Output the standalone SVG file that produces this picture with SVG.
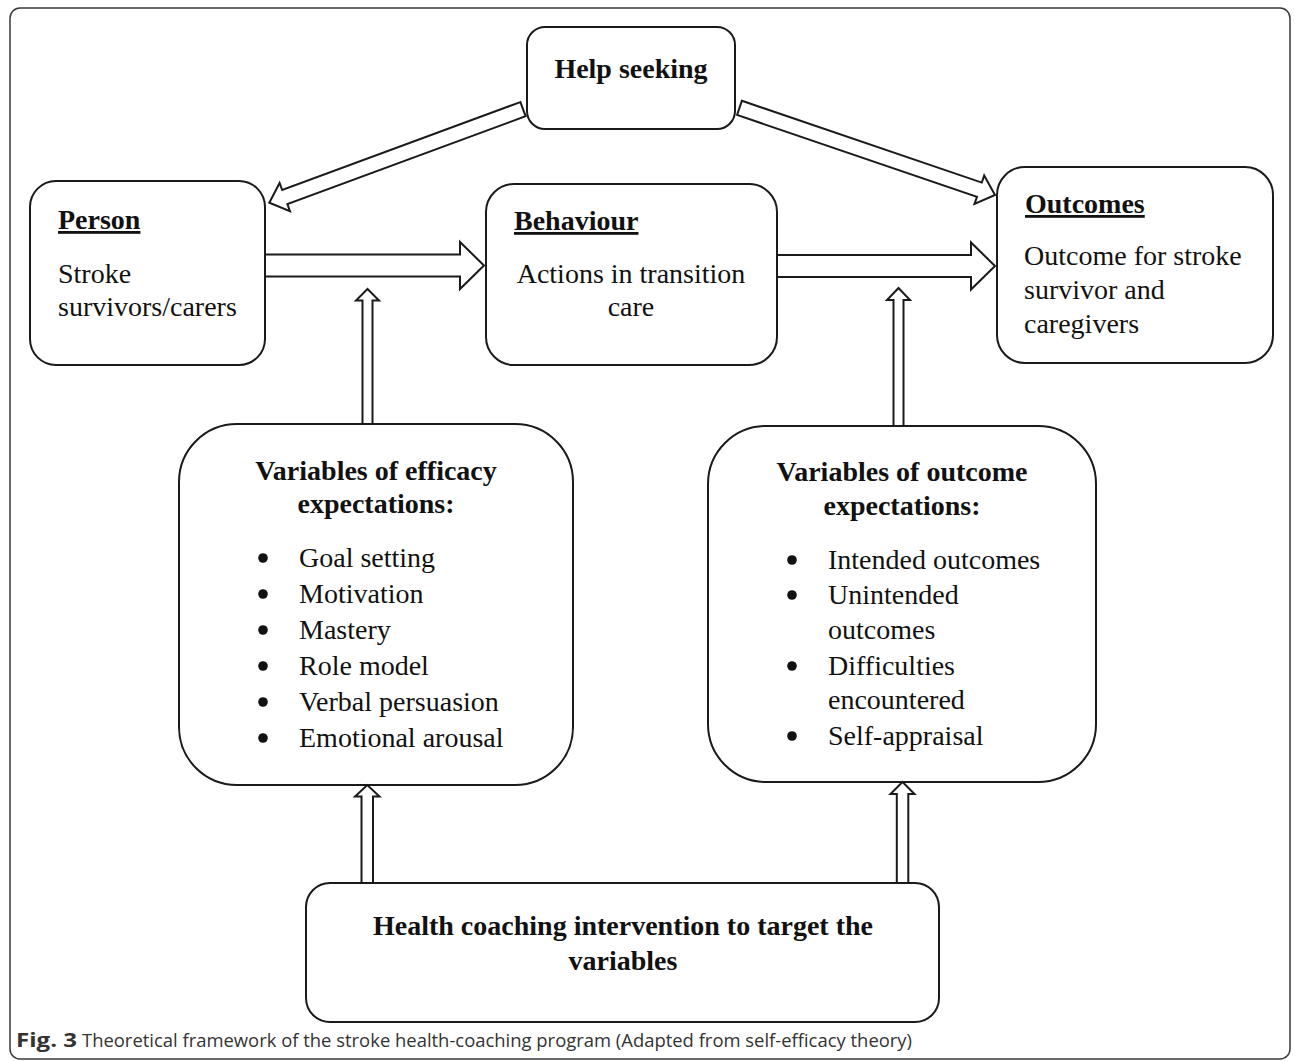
<svg xmlns="http://www.w3.org/2000/svg" width="1295" height="1061" viewBox="0 0 1295 1061">
<style>
.frame{fill:#fff;stroke:#3a3a3a;stroke-width:1.5}
.box{fill:#fff;stroke:#1a1a1a;stroke-width:2}
.arrow{fill:#fff;stroke:#1a1a1a;stroke-width:2;stroke-linejoin:miter}
.t{font-family:"Liberation Serif","Times New Roman",serif;font-size:28px;fill:#111}
.b{font-weight:bold}
.u{text-decoration:underline}
.c{text-anchor:middle}
.dot{fill:#111}
.cap{font-family:"Open Sans","Liberation Sans",sans-serif;font-size:19px;fill:#333}
</style>
<rect class="frame" x="10" y="8" width="1280" height="1051" rx="10"/>

<g id="help-seeking">
<rect class="box" x="527" y="27" width="208" height="102" rx="18"/>
<text class="t b c" x="631" y="78">Help seeking</text>
</g>

<g id="person">
<rect class="box" x="30" y="181" width="235" height="184" rx="26"/>
<text class="t b u" x="58" y="229">Person</text>
<text class="t" x="58" y="283">Stroke</text>
<text class="t" x="58" y="316">survivors/carers</text>
</g>

<g id="behaviour">
<rect class="box" x="486" y="184" width="291" height="181" rx="28"/>
<text class="t b u" x="514" y="230">Behaviour</text>
<text class="t c" x="631" y="283">Actions in transition</text>
<text class="t c" x="631" y="316">care</text>
</g>

<g id="outcomes">
<rect class="box" x="997" y="167" width="276" height="196" rx="28"/>
<text class="t b u" x="1025" y="213">Outcomes</text>
<text class="t" x="1024" y="265">Outcome for stroke</text>
<text class="t" x="1024" y="299">survivor and</text>
<text class="t" x="1024" y="333">caregivers</text>
</g>

<g id="efficacy-expectations">
<rect class="box" x="179" y="424" width="394" height="361" rx="58"/>
<text class="t b c" x="376" y="480">Variables of efficacy</text>
<text class="t b c" x="376" y="513">expectations:</text>
<circle class="dot" cx="263" cy="558" r="4.8"/>
<circle class="dot" cx="263" cy="594" r="4.8"/>
<circle class="dot" cx="263" cy="630" r="4.8"/>
<circle class="dot" cx="263" cy="666" r="4.8"/>
<circle class="dot" cx="263" cy="702" r="4.8"/>
<circle class="dot" cx="263" cy="738" r="4.8"/>
<text class="t" x="299" y="567">Goal setting</text>
<text class="t" x="299" y="603">Motivation</text>
<text class="t" x="299" y="639">Mastery</text>
<text class="t" x="299" y="675">Role model</text>
<text class="t" x="299" y="711">Verbal persuasion</text>
<text class="t" x="299" y="747">Emotional arousal</text>
</g>

<g id="outcome-expectations">
<rect class="box" x="708" y="426" width="388" height="356" rx="58"/>
<text class="t b c" x="902" y="481">Variables of outcome</text>
<text class="t b c" x="902" y="515">expectations:</text>
<circle class="dot" cx="792" cy="560" r="4.8"/>
<circle class="dot" cx="792" cy="595" r="4.8"/>
<circle class="dot" cx="792" cy="666" r="4.8"/>
<circle class="dot" cx="792" cy="736" r="4.8"/>
<text class="t" x="828" y="569">Intended outcomes</text>
<text class="t" x="828" y="604">Unintended</text>
<text class="t" x="828" y="639">outcomes</text>
<text class="t" x="828" y="675">Difficulties</text>
<text class="t" x="828" y="709">encountered</text>
<text class="t" x="828" y="745">Self-appraisal</text>
</g>

<g id="health-coaching">
<rect class="box" x="306" y="883" width="633" height="139" rx="24"/>
<text class="t b c" x="623" y="935">Health coaching intervention to target the</text>
<text class="t b c" x="623" y="970">variables</text>
</g>

<g id="connectors">
<polygon class="arrow" points="520.4,102.1 282.2,190.05 279.6,183.0 269.3,202.8 290.0,211.2 287.4,204.1 525.6,116.2"/>
<polygon class="arrow" points="741.9,100.8 981.8,182.6 984.2,175.5 995,195 974.5,203.9 977.0,196.8 737.1,115.0"/>
<polygon class="arrow" points="265,254.5 460,254.5 460,242 484,265.5 460,289 460,276.5 265,276.5"/>
<polygon class="arrow" points="777,255 971,255 971,242.5 995,266 971,289.5 971,277 777,277"/>
<polygon class="arrow" points="362.5,424 362.5,300.5 356,300.5 367.5,289 379,300.5 372.5,300.5 372.5,424"/>
<polygon class="arrow" points="893.5,426 893.5,300 887,300 898.5,288 910,300 903.5,300 903.5,426"/>
<polygon class="arrow" points="361.5,883 361.5,796.5 355,796.5 367.3,785 379.5,796.5 373,796.5 373,883"/>
<polygon class="arrow" points="896.8,883 896.8,794 890.5,794 902.5,782 914.5,794 908.3,794 908.3,883"/>
</g>

<g id="caption">
<text class="cap" x="16" y="1047" font-weight="bold" textLength="61" lengthAdjust="spacingAndGlyphs">Fig. 3</text>
<text class="cap" x="82" y="1047" textLength="830" lengthAdjust="spacingAndGlyphs">Theoretical framework of the stroke health-coaching program (Adapted from self-efficacy theory)</text>
</g>
</svg>
